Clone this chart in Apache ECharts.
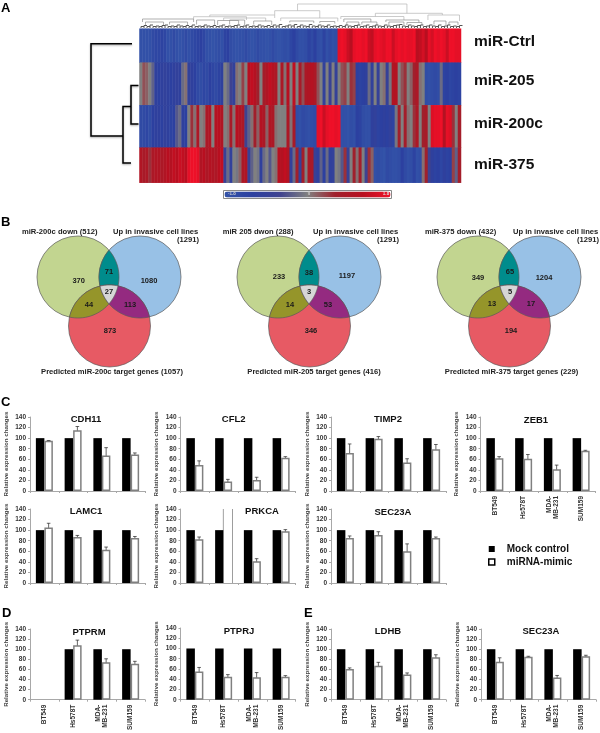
<!DOCTYPE html>
<html>
<head>
<meta charset="utf-8">
<style>
html, body { margin: 0; background: #fff; }
#main { width: 600px; height: 733px; }
</style>
<script src="https://cdn.jsdelivr.net/npm/echarts@6/dist/echarts.min.js"></script>
</head>
<body>
<div id="main"></div>
<script>
// panel A: heatmap columns per miRNA
const heatNames = ['miR-Ctrl', 'miR-205', 'miR-200c', 'miR-375'];
const heatCtrl = [
  -1.7,-1.7,-1.7,-1.7,-1.5,-1.4,-1.4,-1.3,-1.4,-1.7,
  -1.7,-1.5,-1.7,-1.8,-1.7,-1.5,-1.7,-1.5,-1.4,-1.3,
  -1.2,-1.4,-1.7,-1.7,-1.8,-1.7,-1.6,-1.7,-1.3,-1.2,
  -1.6,-1.7,-1.8,-1.7,-1.7,-1.5,-1.7,-1.8,-1.7,-1.5,
  -1.7,-1.7,-1.8,-1.7,-1.5,-1.7,-1.8,-1.7,-1.6,-1.7,
  -1.4,-1.2,-1.5,-1.7,-1.7,-1.6,-1.3,-1.5,-1.2,-1.6,
  -1.7,-1.3,-1.7,-1.5,-1.7,-1.6,
  1.7,1.8,1.7,1.4,1.2,1.7,1.8,1.8,1.7,1.8,
  1.4,1.3,1.7,1.8,1.7,1.6,1.8,1.8,1.4,1.7,
  1.8,1.7,1.8,1.7,1.7,1.8,1.2,1.3,1.5,1.2,
  1.7,1.5,1.8,1.7,1.8,1.7,1.4,1.8,1.8,1.7,
  1.7
];
const heat205 = [
  0.0,0.3,0.2,0.0,-0.3,
  -1.1,-1.2,-1.1,-1.0,-1.1,-1.2,-1.1,-1.0,-1.1,
  -0.2,0.1,-1.0,-1.1,-1.2,
  -1.5,-1.6,-1.4,-1.5,-1.2,-1.4,-1.5,-1.3,-1.1,
  0.0,-0.2,-0.6,-1.0,0.1,0.0,0.4,0.0,1.2,1.3,1.1,0.6,
  0.0,0.7,1.0,1.3,1.1,0.9,0.0,0.9,0.1,1.2,0.0,1.3,
  0.0,0.8,0.3,0.9,1.0,1.1,0.9,0.3,
  0.0,-1.0,0.0,-0.8,0.0,-0.9,
  0.0,0.3,0.4,0.0,0.5,0.4,
  -1.2,-1.3,-1.2,-1.1,
  -0.2,-1.0,0.0,-0.9,0.0,0.1,-0.9,-0.1,
  1.0,1.1,
  0.0,0.3,0.5,0.0,0.2,0.6,0.9,0.1,0.0,
  -1.6,-1.7,-1.6,-1.5,-1.6,-0.2,-1.3,-1.2,-1.4,-1.3,-1.2,-1.3
];
const heat200c = [
  -1.5,-1.5,-1.4,-1.6,-1.2,-1.1,-1.1,-1.2,-1.0,-1.1,-1.3,-1.2,
  -0.4,-0.2,-1.1,-1.2,0.0,0.5,0.1,0.9,0.0,0.1,0.9,1.0,0.0,
  1.1,1.2,1.0,0.0,0.1,0.8,0.1,1.2,1.0,0.9,-0.6,-0.3,0.1,0.6,0.2,
  1.1,0.9,0.2,1.0,0.9,0.1,0.0,0.0,0.0,0.9,0.1,0.8,
  -1.6,-1.7,-1.5,-1.6,-1.7,-1.6,-1.5,
  1.7,1.8,1.4,1.7,1.8,1.8,1.7,1.8,
  -1.7,-1.7,-1.8,-1.6,-1.7,-1.2,-1.3,-1.6,-1.7,-1.7,-1.1,-1.0,-1.3,-1.2,-1.1,-1.2,-1.0,-1.3,
  -0.1,0.6,0.0,0.7,0.1,0.0,0.5,0.9,0.0,0.6,0.8,0.0,
  1.6,1.7,1.7,1.8,1.1,1.7,1.6,0.5,0.0,0.7
];
const heat375 = [
  1.0,0.8,0.9,0.5,0.9,1.0,1.0,0.9,1.0,
  1.2,1.1,1.3,1.2,1.4,1.3,1.2,1.7,1.8,1.8,1.7,
  1.0,1.2,0.9,1.1,1.0,0.9,1.2,1.3,-0.8,-0.2,-1.0,0.0,-0.1,0.2,0.9,1.0,
  -0.8,-0.3,0.0,-0.1,
  -1.1,-0.2,0.0,-0.4,0.0,0.1,1.2,1.1,1.3,1.0,
  -1.0,-0.2,0.6,-0.9,0.7,0.0,0.9,0.8,-0.8,
  -1.1,-0.3,-1.2,-0.2,-1.1,-1.0,0.0,-0.1,
  -0.4,0.5,-0.8,0.0,0.6,0.1,0.7,0.0,-0.6,0.5,0.2,
  -1.7,-1.6,-1.7,-1.8,-1.5,-1.6,-1.7,-1.7,-1.6,-1.2,-1.5,-1.7,-1.6,-1.3,-1.7,-1.6,
  0.1,0.6,-0.6,-1.1,-1.3,-1.2,-1.4,-1.1,-1.3,-1.2,0.4,-0.3,0.7
];
// top dendrogram: [colLeft, colRight, height, heightLeft, heightRight]
const colMerges = [
  [52.6,89,24,17.3,14.7],[45,60,17.3,13,10],[23.4,45,13,11.3,10],[18,35.6,11.3,9,8],
  [1,18,9,6,6],[28,42,10,7.5,7],[47,66,10,7,6.5],[50,58,7,5.5,5],[60,65,6.5,5,4.5],
  [78.5,100.8,14.7,11.5,13],[67,88,11.5,9,8],[96,106.5,13,8,7],[68,77,9,6,6],[82,93,8,6,5.5],
  [2,8,6,3,3],[10,16,6,3.5,3],[19,25,8,3.5,3],[30,35,8,3.5,3],[26,33,7.5,3,3.5],[38,44,7,3.5,3],
  [69,73,6,3,3],[74,79,6,3.5,3],[83,88,6,3,3],[89,94,5.5,3,3],[98,102,7,3.5,3],[103,106,6,3,3]
];
const leafTufts = [
  1.5,2.5,1.5,3,1.5,2,1.5,2.5,3,1.5, 2,1.5,3,2,1.5,2.5,1.5,3,1.5,2, 1.5,3,2,1.5,2.5,1.5,2,3,1.5,2,
  1.5,2.5,3,1.5,2,3,1.5,2,1.5,3, 2,1.5,2.5,1.5,3,2,3.5,1.5,2,3, 2,3.5,1.5,3,2,1.5,3.5,2,1.5,3,
  2,1.5,3,1.5,2,1.5,2.5,1.5,3,2, 1.5,2.5,3,1.5,2,3,1.5,2,3,2, 1.5,3,2,1.5,2.5,3,3.5,2,1.5,3,
  2,1.5,2.5,3,1.5,2,3,2,1.5,3, 1.5,2,3,1.5,2,1.5,2.5
];
// left dendrogram: [rowTop, rowBottom, height, heightTop, heightBottom]
const rowMerges = [[56.8,95.3,8,0.5,0.5],[77.8,134.3,16,8,8],[15,107.3,48,7,16]];

// panel B: venn counts and captions
const vennLeft = ['miR-200c down (512)', 'miR 205 dwon (288)', 'miR-375 down (432)'];
const vennUp = ['Up in invasive cell lines', 'Up in invasive cell lines', 'Up in invasive cell lines'];
const vennUpCount = ['(1291)', '(1291)', '(1291)'];
const vennBottom = ['Predicted miR-200c target genes (1057)', 'Predicted miR-205 target genes (416)', 'Predicted miR-375 target genes (229)'];
// order: down only, both down+up, up only, all three, down+pred, up+pred, pred only
const vennCounts200c = [370, 71, 1080, 27, 44, 113, 873];
const vennCounts205 = [233, 38, 1197, 3, 14, 53, 346];
const vennCounts375 = [349, 65, 1204, 5, 13, 17, 194];

// panels C, D, E
const cellLines = ['BT549', 'Hs578T', 'MDA-\nMB-231', 'SUM159'];
const mock = [100, 100, 100, 100];
const mockPTPRM = [null, 100, 100, 100];
const mimicCDH11 = [95, 115, 67, 69];       const errCDH11 = [0.5, 7, 15, 3];
const mimicCFL2 = [49, 18, 21, 63];         const errCFL2 = [8, 4, 5, 2];
const mimicTIMP2 = [72, 99, 54, 79];        const errTIMP2 = [17, 4, 7, 9];
const mimicZEB1 = [62, 61, 41, 76];         const errZEB1 = [3, 8, 8, 1];
const mimicLAMC1 = [105, 87, 63, 85];       const errLAMC1 = [8, 3, 5, 3];
const mimicPRKCA = [83, 300, 41, 98];       const errPRKCA = [4, 0, 5, 3];
const mimicSEC23A = [85, 91, 60, 85];       const errSEC23A = [4, 6, 14, 2];
const mimicPTPRM = [null, 108, 74, 71];     const errPTPRM = [0, 10, 7, 5];
const mimicPTPRJ = [55, 45, 44, 45];        const errPTPRJ = [8, 4, 9, 2];
const mimicLDHB = [61, 67, 50, 84];         const errLDHB = [2, 7, 3, 5];
const mimicSEC23AE = [75, 85, 44, 86];      const errSEC23AE = [8, 1, 4, 2];

const FONT = '"Liberation Sans", Arial, sans-serif';
const AXIS_GREY = '#a8a8a8';
const BAR_W = 8.5;

const grid = [], xAxis = [], yAxis = [], series = [], title = [], graphic = [];

function text(str, x, y, size, opts) {
  graphic.push({
    type: 'text', x: x, y: y, z: 20, silent: true,
    style: Object.assign({
      text: str, font: 'bold ' + size + 'px ' + FONT, fill: '#222',
      align: 'left', verticalAlign: 'middle'
    }, opts || {})
  });
}

// ---- heatmap rows, unequal heights so one grid each
const heatRows = [heatCtrl, heat205, heat200c, heat375];
const heatTops = [28.7, 62.7, 105.3, 147.7, 182.7];
const colIdx = heatCtrl.map((v, i) => i);
heatRows.forEach((vals, r) => {
  grid.push({ left: 139.5, top: heatTops[r], width: 321.5, height: heatTops[r + 1] - heatTops[r] });
  xAxis.push({ type: 'category', gridIndex: r, data: colIdx, show: false });
  yAxis.push({ type: 'category', gridIndex: r, data: [heatNames[r]], show: false });
  series.push({
    type: 'heatmap', xAxisIndex: r, yAxisIndex: r, progressive: 0,
    data: vals.map((v, i) => [i, 0, v])
  });
});
const heatSeriesIdx = [0, 1, 2, 3];
const heatLabelY = [42, 81, 124, 165];
heatNames.forEach((n, i) => text(n, 474, heatLabelY[i], 15.5, { fill: '#111' }));

// ---- dendrograms
function addAxes(g, xa, ya) {
  grid.push(g);
  const i = grid.length - 1;
  xAxis.push(Object.assign({ type: 'value', gridIndex: i, show: false }, xa));
  yAxis.push(Object.assign({ type: 'value', gridIndex: i, show: false }, ya));
  return i;
}
const topIdx = addAxes({ left: 139.5, top: 4, width: 321.5, height: 24 }, { min: 0, max: 107 }, { min: 0, max: 24 });
series.push({
  type: 'custom', xAxisIndex: topIdx, yAxisIndex: topIdx, data: colMerges, silent: true,
  renderItem(params, api) {
    const a = api.coord([api.value(0), api.value(3)]);
    const b = api.coord([api.value(0), api.value(2)]);
    const c = api.coord([api.value(1), api.value(2)]);
    const d = api.coord([api.value(1), api.value(4)]);
    return {
      type: 'polyline', shape: { points: [a, b, c, d] },
      style: { stroke: api.value(2) > 9 ? '#b4b4b4' : '#8c8c8c', fill: 'none', lineWidth: 0.7 }
    };
  }
});
series.push({
  type: 'custom', xAxisIndex: topIdx, yAxisIndex: topIdx, silent: true,
  data: leafTufts.map((h, i) => [i + 0.5, h]),
  renderItem(params, api) {
    const a = api.coord([api.value(0), 0]);
    const b = api.coord([api.value(0), api.value(1)]);
    const c = api.coord([api.value(0) + 1, api.value(1)]);
    return {
      type: 'polyline', shape: { points: [a, b, c] },
      style: { stroke: '#555', fill: 'none', lineWidth: 1 }
    };
  }
});
const leftIdx = addAxes({ left: 91, top: 28.7, width: 48, height: 154 },
  { min: 0, max: 48, inverse: true }, { min: 0, max: 154, inverse: true });
series.push({
  type: 'custom', xAxisIndex: leftIdx, yAxisIndex: leftIdx, data: rowMerges, silent: true,
  renderItem(params, api) {
    const a = api.coord([api.value(3), api.value(0)]);
    const b = api.coord([api.value(2), api.value(0)]);
    const c = api.coord([api.value(2), api.value(1)]);
    const d = api.coord([api.value(4), api.value(1)]);
    return {
      type: 'polyline', shape: { points: [a, b, c, d] },
      style: {
        stroke: '#000', fill: 'none', lineWidth: 1.5,
        shadowColor: 'rgba(0,0,0,0.35)', shadowBlur: 2, shadowOffsetY: 1
      }
    };
  }
});

// ---- venn diagrams
function meet(p, q) {
  const dx = q.x - p.x, dy = q.y - p.y, d = Math.hypot(dx, dy);
  const a = d / 2, h = Math.sqrt(p.r * p.r - a * a);
  const mx = p.x + dx / 2, my = p.y + dy / 2;
  return [
    [mx + h * dy / d, my - h * dx / d],
    [mx - h * dy / d, my + h * dx / d]
  ];
}
function arc(c, from, to) {
  const a0 = Math.atan2(from[1] - c.y, from[0] - c.x);
  let a1 = Math.atan2(to[1] - c.y, to[0] - c.x);
  while (a1 - a0 > Math.PI) a1 -= 2 * Math.PI;
  while (a1 - a0 < -Math.PI) a1 += 2 * Math.PI;
  const pts = [];
  for (let i = 0; i <= 24; i++) {
    const t = a0 + (a1 - a0) * i / 24;
    pts.push([c.x + c.r * Math.cos(t), c.y + c.r * Math.sin(t)]);
  }
  return pts;
}
const VENN_EDGE = '#5a5a5a';
function poly(points, fill) {
  graphic.push({
    type: 'polygon', z: 10, silent: true, shape: { points: points },
    style: { fill: fill, stroke: VENN_EDGE, lineWidth: 0.7 }
  });
}
function disc(c, fill) {
  graphic.push({
    type: 'circle', z: 10, silent: true, shape: { cx: c.x, cy: c.y, r: c.r },
    style: { fill: fill, stroke: VENN_EDGE, lineWidth: 0.7 }
  });
}
function inside(pt, c) { return Math.hypot(pt[0] - c.x, pt[1] - c.y) < c.r; }
const vennCounts = [vennCounts200c, vennCounts205, vennCounts375];
const countSpots = [
  [[78.7, 281], [109, 272], [149, 281], [109, 292], [89, 305], [130, 305], [110, 331]],
  [[279, 277], [309, 273], [347, 276], [309, 292], [290, 305], [328, 305], [311, 331]],
  [[478, 278], [510, 272], [544, 278], [510, 292], [492, 304], [531, 304], [511, 331]]
];
const leftCaptionX = [22, 222.7, 425];
const upCaptionX = [113, 313, 513];
const bottomCaptionX = [112, 314, 511.5];
[0, 200, 400].forEach((dx, k) => {
  const G = { x: 78 + dx, y: 277, r: 41 };
  const B = { x: 140 + dx, y: 277, r: 41 };
  const R = { x: 109.5 + dx, y: 326, r: 41 };
  disc(G, '#c2d590'); disc(B, '#98c1e6'); disc(R, '#e75a64');
  const gb = meet(G, B), gr = meet(G, R), br = meet(B, R);
  poly(arc(G, gb[0], gb[1]).concat(arc(B, gb[1], gb[0])), '#008c8c');
  poly(arc(G, gr[0], gr[1]).concat(arc(R, gr[1], gr[0])), '#95952a');
  poly(arc(B, br[0], br[1]).concat(arc(R, br[1], br[0])), '#942a80');
  const t1 = gb.filter(p => inside(p, R))[0];
  const t2 = gr.filter(p => inside(p, B))[0];
  const t3 = br.filter(p => inside(p, G))[0];
  poly(arc(G, t1, t2).concat(arc(R, t2, t3), arc(B, t3, t1)), '#d6d6d6');

  vennCounts[k].forEach((n, i) => {
    text(String(n), countSpots[k][i][0], countSpots[k][i][1], 7.5, { align: 'center', fill: '#1a1a1a' });
  });
  text(vennLeft[k], leftCaptionX[k], 232, 7.6);
  text(vennUp[k], upCaptionX[k], 232, 7.6);
  text(vennUpCount[k], upCaptionX[k] + 86, 240, 7.6, { align: 'right' });
  text(vennBottom[k], bottomCaptionX[k], 372, 7.6, { align: 'center' });
});

// ---- bar panels
const panels = [
  { gene: 'CDH11', mock, mimic: mimicCDH11, err: errCDH11, left: 30, top: 417, tx: 86, ty: 419 },
  { gene: 'CFL2', mock, mimic: mimicCFL2, err: errCFL2, left: 180.5, top: 417, tx: 233.7, ty: 419 },
  { gene: 'TIMP2', mock, mimic: mimicTIMP2, err: errTIMP2, left: 331, top: 417, tx: 388, ty: 419 },
  { gene: 'ZEB1', mock, mimic: mimicZEB1, err: errZEB1, left: 480.5, top: 417, tx: 536, ty: 420, labels: true },
  { gene: 'LAMC1', mock, mimic: mimicLAMC1, err: errLAMC1, left: 30, top: 509, tx: 86, ty: 511 },
  { gene: 'PRKCA', mock, mimic: mimicPRKCA, err: errPRKCA, left: 180.5, top: 509, tx: 262, ty: 511 },
  { gene: 'SEC23A', mock, mimic: mimicSEC23A, err: errSEC23A, left: 331, top: 509, tx: 393, ty: 512 },
  { gene: 'PTPRM', mock: mockPTPRM, mimic: mimicPTPRM, err: errPTPRM, left: 30, top: 629, tx: 89, ty: 632, labels: true },
  { gene: 'PTPRJ', mock, mimic: mimicPTPRJ, err: errPTPRJ, left: 180.5, top: 628, tx: 239, ty: 631, labels: true },
  { gene: 'LDHB', mock, mimic: mimicLDHB, err: errLDHB, left: 331, top: 629, tx: 388, ty: 631, labels: true },
  { gene: 'SEC23A', mock, mimic: mimicSEC23AE, err: errSEC23AE, left: 481, top: 629, tx: 541, ty: 631, labels: true }
];
panels.forEach(p => {
  grid.push({ left: p.left, top: p.top, width: 115, height: 74 });
  const i = grid.length - 1;
  xAxis.push({
    type: 'category', gridIndex: i, data: cellLines,
    axisLine: { lineStyle: { color: AXIS_GREY } },
    axisTick: { show: true, length: 2, lineStyle: { color: AXIS_GREY } },
    axisLabel: {
      show: !!p.labels, interval: 0, rotate: 90, margin: 5,
      fontFamily: FONT, fontSize: 6.5, fontWeight: 'bold', color: '#333', lineHeight: 7
    }
  });
  yAxis.push({
    type: 'value', gridIndex: i, min: 0, max: 140, interval: 20,
    name: 'Relative expression changes', nameLocation: 'middle', nameGap: 21, nameRotate: 90,
    nameTextStyle: { fontFamily: FONT, fontSize: 6.2, fontWeight: 'bold', color: '#444' },
    splitLine: { show: false },
    axisLine: { show: true, lineStyle: { color: AXIS_GREY } },
    axisTick: { show: true, length: 2, lineStyle: { color: AXIS_GREY } },
    axisLabel: { margin: 4, fontFamily: FONT, fontSize: 6.5, fontWeight: 'bold', color: '#333' }
  });
  series.push({
    name: 'Mock control', type: 'bar', xAxisIndex: i, yAxisIndex: i,
    barWidth: BAR_W, barGap: 0, data: p.mock, itemStyle: { color: '#000' }
  });
  series.push({
    name: 'miRNA-mimic', type: 'bar', xAxisIndex: i, yAxisIndex: i,
    barWidth: BAR_W, barGap: 0,
    data: p.mimic.map(v => v > 140 ? { value: v, itemStyle: { borderWidth: 0 } } : v),
    itemStyle: { color: '#fff', borderColor: '#808080', borderWidth: 1.5 }
  });
  series.push({
    type: 'custom', xAxisIndex: i, yAxisIndex: i, silent: true,
    data: p.mimic.map((v, c) => [c, v, p.err[c]]).filter(d => d[1] !== null),
    renderItem(params, api) {
      const c = api.value(0), v = api.value(1), e = api.value(2);
      const x = api.coord([c, 0])[0] + BAR_W / 2;
      const kids = [];
      if (v > 140) {
        // bar runs off the top of the axis, drawn open ended
        const y0 = api.coord([c, 0])[1], y1 = api.coord([c, 140])[1];
        [x - BAR_W / 2, x + BAR_W / 2].forEach(sx => kids.push({
          type: 'line', shape: { x1: sx, y1: y0, x2: sx, y2: y1 },
          style: { stroke: '#808080', lineWidth: 1.5 }
        }));
      } else {
        const top = api.coord([c, v + e])[1], bot = api.coord([c, v - e])[1];
        const s = { stroke: '#222', lineWidth: 0.7 };
        kids.push({ type: 'line', shape: { x1: x, y1: top, x2: x, y2: bot }, style: s });
        kids.push({ type: 'line', shape: { x1: x - 1.8, y1: top, x2: x + 1.8, y2: top }, style: s });
        kids.push({ type: 'line', shape: { x1: x - 1.8, y1: bot, x2: x + 1.8, y2: bot }, style: s });
      }
      return { type: 'group', children: kids };
    }
  });
  title.push({
    text: p.gene, left: p.tx, top: p.ty - 5, textAlign: 'center', padding: 0,
    textStyle: { fontFamily: FONT, fontSize: 9.5, fontWeight: 'bold', color: '#111' }
  });
});

// ---- panel letters and colour bar labels
text('A', 1, 8, 13, { fill: '#000' });
text('B', 1, 222, 13, { fill: '#000' });
text('C', 1, 402, 13, { fill: '#000' });
text('D', 2, 613, 13, { fill: '#000' });
text('E', 304, 613, 13, { fill: '#000' });
text('-1.8', 232, 194, 4.5, { fill: '#ccc', align: 'center' });
text('0', 309, 194, 4.5, { fill: '#ccc', align: 'center' });
text('1.8', 386, 194, 4.5, { fill: '#ddd', align: 'center' });

const chart = echarts.init(document.getElementById('main'), null, { renderer: 'canvas' });
chart.setOption({
  animation: false,
  backgroundColor: '#fff',
  textStyle: { fontFamily: FONT },
  tooltip: { show: false },
  title, grid, xAxis, yAxis, series, graphic,
  visualMap: {
    type: 'continuous', seriesIndex: heatSeriesIdx, min: -1.8, max: 1.8,
    orient: 'horizontal', left: 223, top: 190, itemWidth: 6, itemHeight: 166,
    calculable: false, showLabel: false, padding: 1,
    borderColor: '#888', borderWidth: 1, backgroundColor: '#fff',
    inRange: { color: ['#3353a8', '#2c40a0', '#3e4290', '#808080', '#a0202c', '#b80f20', '#ee1028'] }
  },
  legend: {
    orient: 'vertical', left: 488, top: 544, padding: 0, itemWidth: 6, itemHeight: 6, itemGap: 3,
    selectedMode: false,
    textStyle: { fontFamily: FONT, fontSize: 10, fontWeight: 'bold', color: '#111', padding: [0, 0, 0, 7] },
    data: [
      { name: 'Mock control', icon: 'rect', itemStyle: { color: '#000', borderWidth: 0 } },
      { name: 'miRNA-mimic', icon: 'rect', itemStyle: { color: '#fff', borderColor: '#000', borderWidth: 1.5 } }
    ]
  }
});
</script>
</body>
</html>
